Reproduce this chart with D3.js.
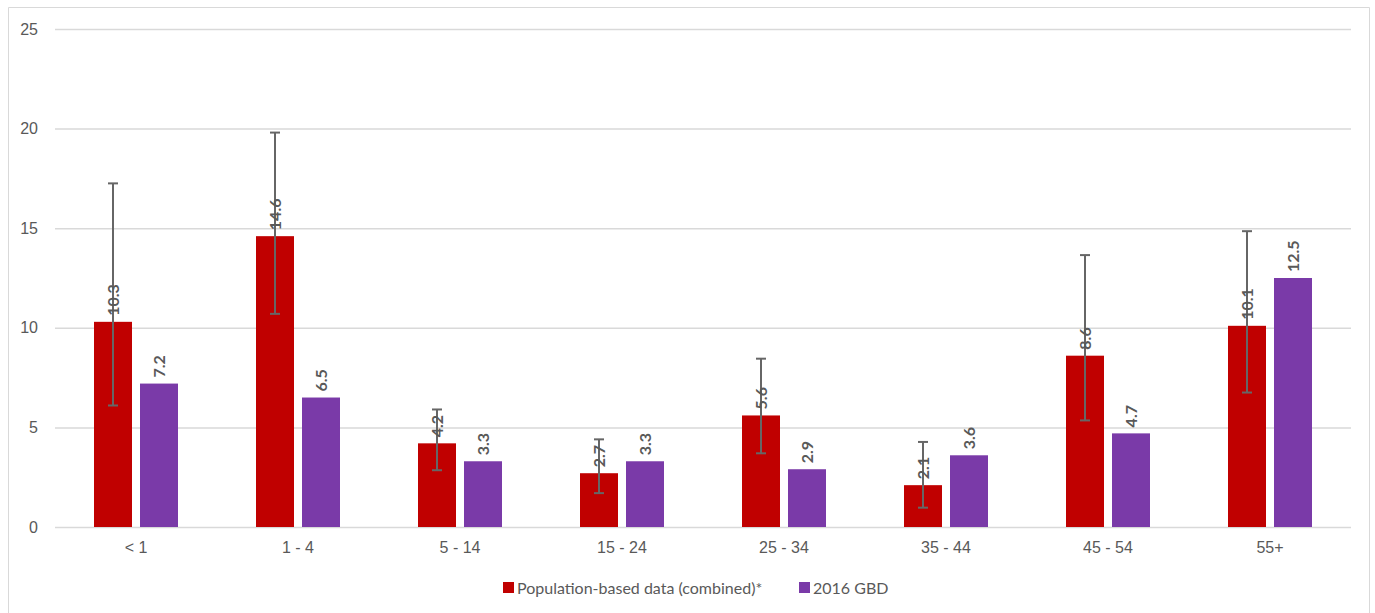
<!DOCTYPE html>
<html>
<head>
<meta charset="utf-8">
<script src="https://cdn.jsdelivr.net/npm/d3@7"></script>
<style>
  html, body { margin: 0; padding: 0; background: #fff; }
  svg { display: block; font-family: Lato, "Open Sans", sans-serif; }
</style>
</head>
<body>
<svg id="chart" width="1375" height="613"></svg>
<script>
// Age groups and the two series compared in each
const ageGroups = ["< 1", "1 - 4", "5 - 14", "15 - 24", "25 - 34", "35 - 44", "45 - 54", "55+"];
const populationBased = [10.3, 14.6, 4.2, 2.7, 5.6, 2.1, 8.6, 10.1];
const populationLow   = [6.1, 10.7, 2.85, 1.7, 3.7, 0.97, 5.35, 6.75];
const populationHigh  = [17.25, 19.8, 5.9, 4.4, 8.45, 4.27, 13.65, 14.85];
const gbd2016 = [7.2, 6.5, 3.3, 3.3, 2.9, 3.6, 4.7, 12.5];
const seriesNames = ["Population-based data (combined)*", "2016 GBD"];
const yTicks = [0, 5, 10, 15, 20, 25];

const colors = ["#C00000", "#7A3AA8"];
const textColor = "#595959";

const svg = d3.select("#chart");

// Outer frame
svg.append("path")
  .attr("d", "M8.5,620 V7.5 H1369.5 V620")
  .attr("fill", "none")
  .attr("stroke", "#d9d9d9")
  .attr("stroke-width", 1);

const plot = { left: 55, right: 1351, top: 29, bottom: 527 };

const x = d3.scaleBand().domain(ageGroups).range([plot.left, plot.right]);
const y = d3.scaleLinear().domain([0, 25]).range([plot.bottom, plot.top]);

const barW = 38, gap = 8;
const offsets = [-(gap / 2 + barW), gap / 2];

// Gridlines and y labels
const yAxis = d3.axisLeft(y).tickValues(yTicks).tickSize(-(plot.right - plot.left)).tickFormat(d3.format("d")).tickPadding(17);
const gy = svg.append("g").attr("transform", `translate(${plot.left},0)`).call(yAxis);
gy.select(".domain").remove();
gy.selectAll(".tick line").attr("stroke", "#d9d9d9").attr("stroke-width", 1.5);
gy.selectAll(".tick text").attr("fill", textColor).attr("font-size", 16);

// x labels
const xAxis = d3.axisBottom(x).tickSize(0).tickPadding(15);
const gx = svg.append("g").attr("transform", `translate(0,${plot.bottom})`).call(xAxis);
gx.select(".domain").remove();
gx.selectAll(".tick text").attr("fill", textColor).attr("font-size", 16);

const series = [populationBased, gbd2016];

series.forEach((vals, si) => {
  const g = svg.append("g");
  g.selectAll("rect").data(vals).join("rect")
    .attr("x", (d, i) => x(ageGroups[i]) + x.bandwidth() / 2 + offsets[si])
    .attr("y", d => y(d))
    .attr("width", barW)
    .attr("height", d => y(0) - y(d))
    .attr("fill", colors[si]);
});

// Error bars on the population-based series
const eb = svg.append("g").attr("stroke", "#666").attr("stroke-width", 2);
ageGroups.forEach((a, i) => {
  const cx = x(a) + x.bandwidth() / 2 + offsets[0] + barW / 2;
  eb.append("line").attr("x1", cx).attr("x2", cx).attr("y1", y(populationLow[i])).attr("y2", y(populationHigh[i]));
  eb.append("line").attr("x1", cx - 5).attr("x2", cx + 5).attr("y1", y(populationLow[i])).attr("y2", y(populationLow[i]));
  eb.append("line").attr("x1", cx - 5).attr("x2", cx + 5).attr("y1", y(populationHigh[i])).attr("y2", y(populationHigh[i]));
});

// Value labels, rotated, above each bar
series.forEach((vals, si) => {
  svg.append("g").selectAll("text").data(vals).join("text")
    .attr("transform", (d, i) => {
      const cx = x(ageGroups[i]) + x.bandwidth() / 2 + offsets[si] + barW / 2;
      return `translate(${cx},${y(d) - 6}) rotate(-90)`;
    })
    .attr("dy", "0.35em")
    .attr("text-anchor", "start")
    .attr("font-size", 16)
    .attr("font-weight", "bold")
    .attr("fill", "#595959")
    .text(d => d3.format(".1f")(d));
});

// Legend
const legend = svg.append("g");
const legendItems = [{ x: 503, name: seriesNames[0] }, { x: 799, name: seriesNames[1] }];
legendItems.forEach((it, i) => {
  legend.append("rect").attr("x", it.x).attr("y", 582).attr("width", 11).attr("height", 11).attr("fill", colors[i]);
  legend.append("text").attr("x", it.x + 14).attr("y", 588).attr("dy", "0.35em")
    .attr("font-size", 16).attr("fill", textColor).text(it.name);
});
</script>
</body>
</html>
